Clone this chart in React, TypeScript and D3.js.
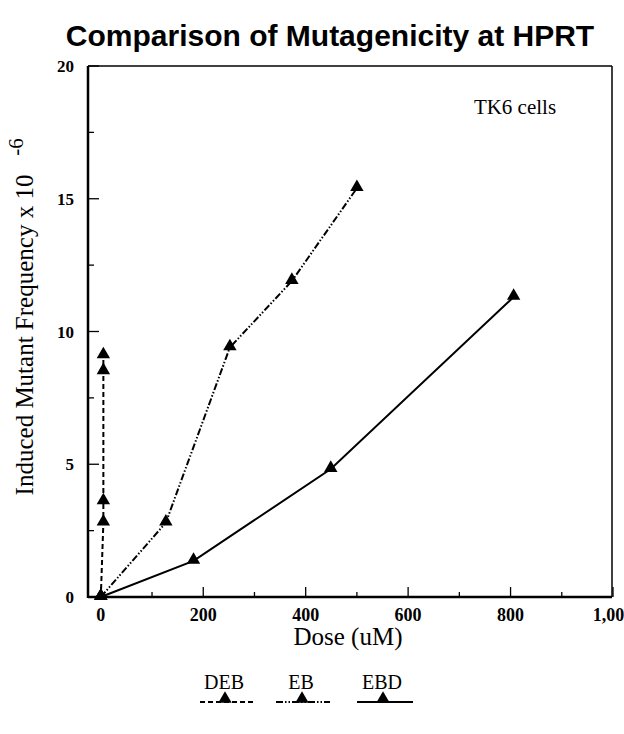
import React from 'react';
import * as d3 from 'd3';

// doses (uM) and induced mutant frequency (x 10^-6)
const debDose = [0, 5, 5, 5, 5];
const debFreq = [0, 2.8, 3.6, 8.5, 9.1];
const ebDose = [0, 127, 252, 373, 500];
const ebFreq = [0, 2.8, 9.4, 11.9, 15.4];
const ebdDose = [0, 181, 449, 806];
const ebdFreq = [0, 1.36, 4.82, 11.3];

const xTicks = [0, 200, 400, 600, 800, 1000];
const xTickLabels = ['0', '200', '400', '600', '800', '1,000'];
const xMinor = [100, 300, 500, 700, 900];
const yTicks = [0, 5, 10, 15, 20];
const yMinor = [2.5, 7.5, 12.5, 17.5];

const seriesNames = ['DEB', 'EB', 'EBD'];
const dashes = ['5,3', '7,2,1.5,2,1.5,2', null];

const W = 624;
const H = 734;
const left = 88, right = 612, top = 66, bottom = 597;

const serif = '"Liberation Serif", "DejaVu Serif", serif';

const Tri = ({ x, y }: { x: number; y: number }) => (
  <path d={d3.symbol(d3.symbolTriangle, 78)()!} transform={`translate(${x},${y - 1})`} fill="#000" />
);

export default function App() {
  const x = d3.scaleLinear().domain([-25, 1000]).range([left, 613]);
  const y = d3.scaleLinear().domain([0, 20]).range([bottom, top]);

  const series = [
    debDose.map((d, i) => [d, debFreq[i]]),
    ebDose.map((d, i) => [d, ebFreq[i]]),
    ebdDose.map((d, i) => [d, ebdFreq[i]]),
  ];

  const line = d3.line<number[]>().x(d => x(d[0])).y(d => y(d[1]));

  const legendX = [225, 302, 383];
  const legendL = [[200, 254], [276, 330], [357, 413]];

  return (
    <svg width={W} height={H} style={{ display: 'block', position: 'absolute', left: 0, top: 0 }}>
      <rect width={W} height={H} fill="#fff" />
      <text x={330} y={46} textAnchor="middle" fontFamily='"Liberation Sans", Arial, sans-serif'
        fontWeight="bold" fontSize={30}>Comparison of Mutagenicity at HPRT</text>

      {/* frame */}
      <line x1={left} x2={left} y1={top} y2={bottom + 1} stroke="#000" strokeWidth={2.5} />
      <line x1={left} x2={right} y1={bottom} y2={bottom} stroke="#000" strokeWidth={2.5} />
      <line x1={left} x2={right} y1={top} y2={top} stroke="#000" strokeWidth={1.5} />
      <line x1={right} x2={right} y1={top} y2={bottom} stroke="#000" strokeWidth={1.5} />

      {/* y ticks */}
      {yTicks.map(t => (
        <g key={'y' + t}>
          <line x1={left} x2={left + 11} y1={y(t)} y2={y(t)} stroke="#000" strokeWidth={1.3} />
          <text x={74} y={y(t) + 6} textAnchor="end" fontFamily={serif} fontWeight="bold" fontSize={17}>{t}</text>
        </g>
      ))}
      {yMinor.map(t => (
        <line key={'ym' + t} x1={left} x2={left + 6} y1={y(t)} y2={y(t)} stroke="#000" strokeWidth={1.3} />
      ))}

      {/* x ticks */}
      {xTicks.map((t, i) => (
        <g key={'x' + t}>
          <line x1={x(t)} x2={x(t)} y1={bottom} y2={bottom - 10} stroke="#000" strokeWidth={1.3} />
          <text x={x(t)} y={621} textAnchor="middle" fontFamily={serif} fontWeight="bold" fontSize={18}>{xTickLabels[i]}</text>
        </g>
      ))}
      {xMinor.map(t => (
        <line key={'xm' + t} x1={x(t)} x2={x(t)} y1={bottom} y2={bottom - 5} stroke="#000" strokeWidth={1.3} />
      ))}

      <text x={348} y={645} textAnchor="middle" fontFamily={serif} fontSize={25}>Dose (uM)</text>

      <text transform="translate(33,335) rotate(-90)" textAnchor="middle" fontFamily={serif} fontSize={25}>
        Induced Mutant Frequency x 10
      </text>
      <text transform="translate(23,147) rotate(-90)" textAnchor="middle" fontFamily={serif} fontSize={21}>-6</text>

      <text x={515} y={114} textAnchor="middle" fontFamily={serif} fontSize={21}>TK6 cells</text>

      {/* series */}
      {series.map((s, i) => (
        <g key={seriesNames[i]}>
          <path d={line(s)!} fill="none" stroke="#000" strokeWidth={2}
            strokeDasharray={dashes[i] ?? undefined} />
          {s.map((p, j) => <Tri key={j} x={x(p[0])} y={y(p[1])} />)}
        </g>
      ))}

      {/* legend */}
      {seriesNames.map((n, i) => (
        <g key={'lg' + n}>
          <text x={legendX[i] - 1} y={689} textAnchor="middle" fontFamily={serif} fontSize={20}>{n}</text>
          <line x1={legendL[i][0]} x2={legendL[i][1]} y1={702} y2={702} stroke="#000" strokeWidth={2}
            strokeDasharray={dashes[i] ?? undefined} />
          <Tri x={legendX[i]} y={700} />
        </g>
      ))}
    </svg>
  );
}
